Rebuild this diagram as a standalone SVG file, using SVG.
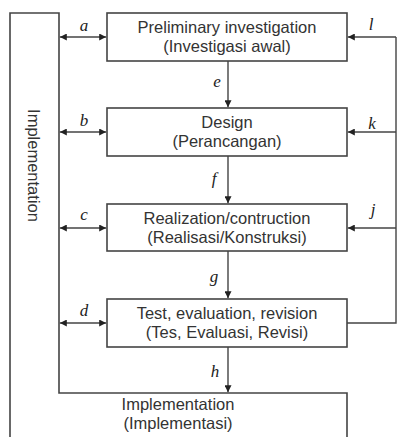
<svg xmlns="http://www.w3.org/2000/svg" width="401" height="437" viewBox="0 0 401 437">
<defs>
<style>
.box{fill:#fff;stroke:#444;stroke-width:1.6}
.ln{fill:none;stroke:#444;stroke-width:1.4}
.t{font-family:"Liberation Sans",Arial,sans-serif;font-size:16.5px;fill:#333;text-anchor:middle}
.lb{font-family:"Liberation Serif","Times New Roman",serif;font-style:italic;font-size:17px;fill:#222;text-anchor:middle}
</style>
<marker id="ah" viewBox="0 0 10 10" refX="10" refY="5" markerWidth="7" markerHeight="7" markerUnits="userSpaceOnUse" orient="auto-start-reverse">
<path d="M0,0 L10,5 L0,10 z" fill="#222"/>
</marker>
</defs>
<rect width="401" height="437" fill="#fff"/>

<g id="implementation">
<path class="box" d="M10,440 V13 H59 V393 H347 V440"/>
<text class="t" transform="translate(28,165.5) rotate(90)">Implementation</text>
<text class="t" x="178" y="410">Implementation</text>
<text class="t" x="178" y="429">(Implementasi)</text>
</g>

<g id="preliminary">
<rect class="box" x="107" y="13" width="240" height="48"/>
<text class="t" x="227" y="33">Preliminary investigation</text>
<text class="t" x="227" y="52">(Investigasi awal)</text>
</g>

<g id="design">
<rect class="box" x="107" y="108" width="240" height="48"/>
<text class="t" x="227" y="128">Design</text>
<text class="t" x="227" y="147">(Perancangan)</text>
</g>

<g id="realization">
<rect class="box" x="107" y="204" width="240" height="47"/>
<text class="t" x="227" y="224">Realization/contruction</text>
<text class="t" x="227" y="243">(Realisasi/Konstruksi)</text>
</g>

<g id="test">
<rect class="box" x="107" y="299" width="240" height="48"/>
<text class="t" x="227" y="319">Test, evaluation, revision</text>
<text class="t" x="227" y="338">(Tes, Evaluasi, Revisi)</text>
</g>

<g id="connectors">
<line class="ln" x1="59.8" y1="37" x2="106.2" y2="37" marker-start="url(#ah)" marker-end="url(#ah)"/>
<line class="ln" x1="59.8" y1="132" x2="106.2" y2="132" marker-start="url(#ah)" marker-end="url(#ah)"/>
<line class="ln" x1="59.8" y1="228" x2="106.2" y2="228" marker-start="url(#ah)" marker-end="url(#ah)"/>
<line class="ln" x1="59.8" y1="323" x2="106.2" y2="323" marker-start="url(#ah)" marker-end="url(#ah)"/>

<line class="ln" x1="228" y1="61" x2="228" y2="107.2" marker-end="url(#ah)"/>
<line class="ln" x1="228" y1="156" x2="228" y2="203.2" marker-end="url(#ah)"/>
<line class="ln" x1="228" y1="251" x2="228" y2="298.2" marker-end="url(#ah)"/>
<line class="ln" x1="228" y1="347" x2="228" y2="392.2" marker-end="url(#ah)"/>

<path class="ln" d="M347,323 H396 V37"/>
<line class="ln" x1="396" y1="37" x2="347.8" y2="37" marker-end="url(#ah)"/>
<line class="ln" x1="396" y1="132" x2="347.8" y2="132" marker-end="url(#ah)"/>
<line class="ln" x1="396" y1="228" x2="347.8" y2="228" marker-end="url(#ah)"/>

<text class="lb" x="84" y="31">a</text>
<text class="lb" x="84" y="126">b</text>
<text class="lb" x="84" y="220">c</text>
<text class="lb" x="84" y="316">d</text>
<text class="lb" x="217" y="87">e</text>
<text class="lb" x="214" y="184">f</text>
<text class="lb" x="214" y="282">g</text>
<text class="lb" x="215" y="377">h</text>
<text class="lb" x="371" y="30">l</text>
<text class="lb" x="372" y="129">k</text>
<text class="lb" x="373" y="215">j</text>
</g>
</svg>
